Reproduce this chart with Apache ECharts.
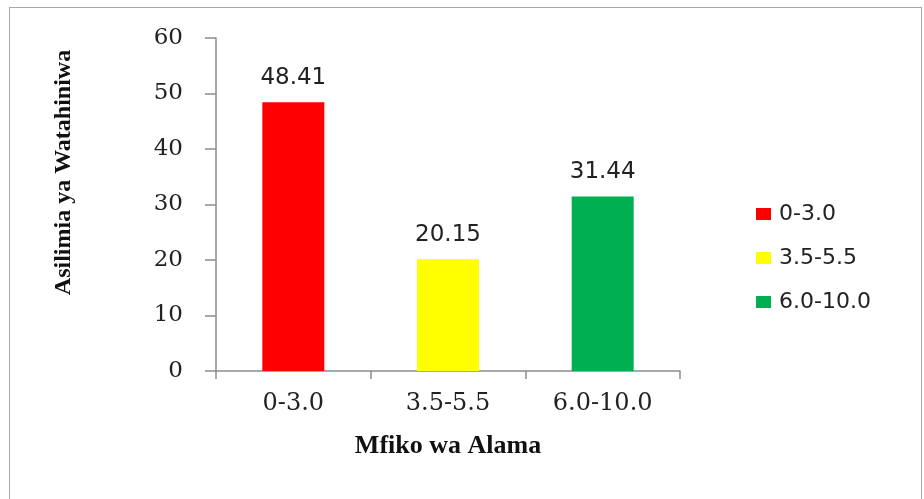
<!DOCTYPE html>
<html>
<head>
<meta charset="utf-8">
<script src="https://cdn.jsdelivr.net/npm/echarts@6/dist/echarts.min.js"></script>
<style>
    html, body { margin: 0; padding: 0; background: #fff; }
    .frame {
        position: absolute; left: 9px; top: 7px; width: 913px; height: 500px;
        border: 1px solid #a8a8a8; box-sizing: border-box;
    }
    .Chart { position: absolute; left: 0; top: 0; width: 924px; height: 499px; }
</style>
</head>
<body>
<div class="frame"></div>
<div class="Chart"></div>
<script>
// Mfiko wa Alama
var categories = ['0-3.0', '3.5-5.5', '6.0-10.0'];
var values = [48.41, 20.15, 31.44];
var colorList = ['#ff0000', '#ffff00', '#00b050'];
var yTicks = [0, 10, 20, 30, 40, 50, 60];

(function () {
    var myChart = echarts.init(document.querySelector(".Chart"));

    var series = categories.map(function (name, i) {
        return {
            name: name,
            type: 'bar',
            barWidth: 62,
            barGap: '-100%',
            itemStyle: { color: colorList[i] },
            label: {
                show: true,
                position: 'top',
                distance: 13,
                color: '#222',
                fontSize: 23,
                fontFamily: 'DejaVu Sans'
            },
            data: categories.map(function (c, j) {
                return j === i ? values[i] : '-';
            })
        };
    });

    var option = {
        animation: false,
        backgroundColor: 'transparent',
        grid: {
            left: 216,
            right: 244,
            top: 38,
            bottom: 128
        },
        legend: {
            orient: 'vertical',
            left: 751,
            top: 198,
            itemWidth: 15,
            itemHeight: 12,
            itemGap: 22,
            icon: 'rect',
            textStyle: {
                color: '#222',
                fontSize: 22,
                fontFamily: 'DejaVu Sans',
                padding: [0, 0, 0, 3]
            },
            data: categories
        },
        xAxis: {
            type: 'category',
            data: categories,
            name: 'Mfiko wa Alama',
            nameLocation: 'middle',
            nameGap: 62,
            nameTextStyle: {
                color: '#111',
                fontSize: 26,
                fontWeight: 'bold',
                fontFamily: 'Liberation Serif'
            },
            axisLine: { lineStyle: { color: '#8c8c8c', width: 1.5 } },
            axisTick: { show: true, length: 8, lineStyle: { color: '#8c8c8c', width: 1.5 } },
            axisLabel: {
                margin: 21,
                color: '#222',
                fontSize: 24,
                fontFamily: 'DejaVu Serif'
            },
            splitLine: { show: false }
        },
        yAxis: {
            type: 'value',
            min: yTicks[0],
            max: yTicks[yTicks.length - 1],
            interval: 10,
            name: 'Asilimia ya Watahiniwa',
            nameLocation: 'middle',
            nameGap: 140,
            nameTextStyle: {
                color: '#111',
                fontSize: 24,
                fontWeight: 'bold',
                fontFamily: 'Liberation Serif',
                padding: [0, 0, 0, 64]
            },
            axisLine: { show: true, lineStyle: { color: '#8c8c8c', width: 1.5 } },
            axisTick: { show: true, length: 11, lineStyle: { color: '#8c8c8c', width: 1.5 } },
            axisLabel: {
                margin: 33,
                color: '#222',
                fontSize: 23,
                fontFamily: 'DejaVu Serif'
            },
            splitLine: { show: false }
        },
        series: series
    };
    myChart.setOption(option);
    window.addEventListener("resize", function () {
        myChart.resize();
    });
})();
</script>
</body>
</html>
